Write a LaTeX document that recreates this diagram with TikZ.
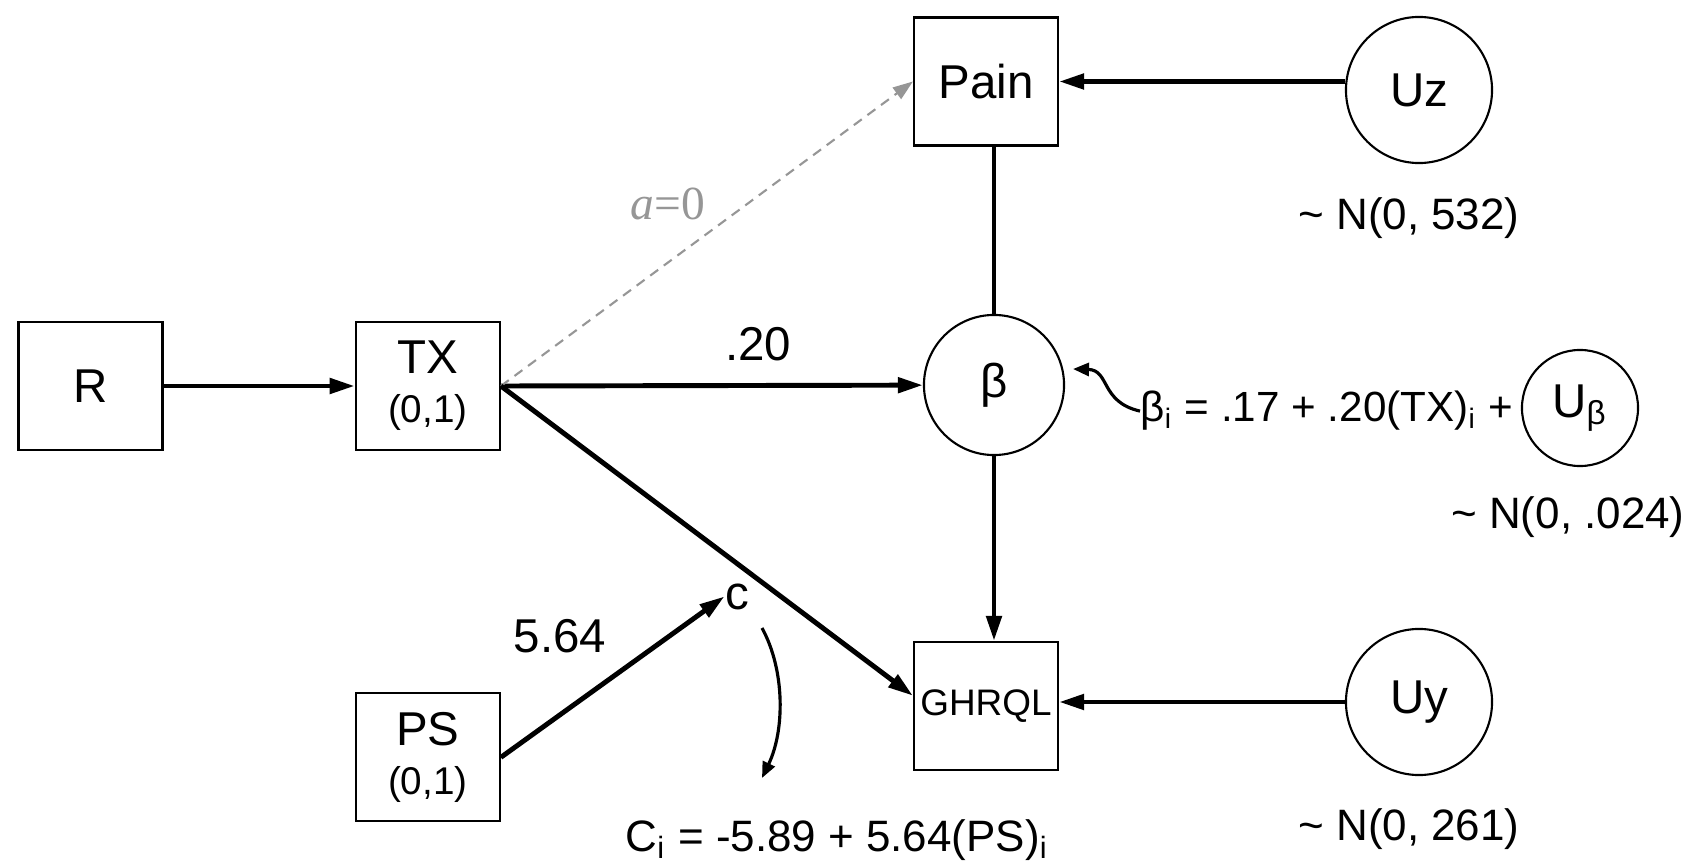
\documentclass[tikz,border=0pt]{standalone}
\usepackage{fontspec}
\setmainfont{Liberation Sans}
\newfontfamily\tmsfont{Liberation Serif}
\usepackage{tikz}
\usetikzlibrary{positioning,arrows.meta,calc}
\definecolor{pGray}{RGB}{150,150,150}
\newcommand{\fBig}{\fontsize{13.5}{16}\selectfont}
\newcommand{\fMid}{\fontsize{12.5}{15}\selectfont}
\newcommand{\fSml}{\fontsize{10.5}{12}\selectfont}
\tikzset{
  obs/.style={rectangle, draw, line width=0.6pt, minimum width=1.44cm,
              minimum height=1.28cm, inner sep=0pt, align=center, font=\fBig},
  lat/.style={circle, draw, line width=0.6pt, minimum size=1.46cm,
              inner sep=0pt, font=\fBig},
  flow/.style={-{Triangle[length=2.5mm,width=1.5mm]}, line width=1.4pt},
  link/.style={line width=1.4pt},
  zero/.style={-{Triangle[length=2mm,width=1.4mm]}, draw=pGray, line width=0.6pt,
               dash pattern=on 2.8pt off 2pt},
  curl/.style={-{Triangle[length=1.6mm,width=1.3mm]}, line width=0.9pt},
  lbl/.style={inner sep=0pt, font=\fMid},
}

\begin{document}
\begin{tikzpicture}[x=0.01cm, y=-0.01cm]
  \useasboundingbox (0,0) rectangle (1690,867);
  % observed variables
  \node[obs] (R) at (90.5,386) {R};
  \node[obs, right=1.91cm of R] (TX) {TX\\[-2pt]{\fontsize{11}{12}\selectfont (0,1)}};
  \node[obs, below=2.41cm of TX] (PS) {PS\\[-2pt]{\fontsize{11}{12}\selectfont (0,1)}};
  \node[obs] (pain) at (986,81.5) {Pain};
  \node[obs, font=\fSml] (ghrql) at (986,706) {GHRQL};
  % latent terms
  \node[lat, minimum size=1.4cm] (beta) at (994,385) {β};
  \node[lat] (uz) at (1419,90) {Uz};
  \node[lat] (uy) at (1419,702) {Uy};
  \node[lat, minimum size=1.16cm] (ub) at (1580,408) {U\textsubscript{β}};
  % equations and labels
  \node[lbl, anchor=base west, font=\fontsize{12}{14}\selectfont] (beq) at (1140,422)
    {β\textsubscript{i} = .17 + .20(TX)\textsubscript{i} +};
  \node[lbl, anchor=base] (nz) at (1409,230) {\textasciitilde\ N(0, 532)};
  \node[lbl, anchor=base] (nb) at (1568,528) {\textasciitilde\ N(0, .024)};
  \node[lbl, anchor=base] (ny) at (1409,840) {\textasciitilde\ N(0, 261)};
  \node[lbl, anchor=base] (ceq) at (837,851)
    {C\textsubscript{i} = -5.89 + 5.64(PS)\textsubscript{i}};
  \node[lbl, anchor=base, font=\fBig] (c) at (737,609) {c};
  \node[lbl, font=\fBig] (wps) at (560,636) {5.64};
  \node[lbl, font=\fBig, text=pGray] (wa) at (668,204) {\tmsfont\itshape a\upshape=0};
  \coordinate (bhead) at (1073,369);
  \coordinate (ctail) at (762,628);
  \coordinate (chead) at (762,778);
  % paths
  \draw[flow] (R) -- (TX);
  \draw[flow] (TX.east) -- node[lbl, font=\fBig, pos=0.61, above=0.22cm] (w20) {.20} (beta);
  \draw[zero] (TX.east) -- (pain.west);
  \draw[flow] (TX.east) -- (ghrql.172);
  \draw[link] (beta.north) -- (beta.north |- pain.south);
  \draw[flow] (beta.south) -- (beta.south |- ghrql.north);
  \draw[flow] (uz.west |- pain.east) -- (pain.east);
  \draw[flow] (uy.west) -- (uy.west -| ghrql.east);
  \draw[flow] (PS.east) -- (c.west);
  \draw[curl] (beq.west) .. controls (1100,402) and (1110,370) .. (bhead);
  \draw[curl] (ctail) .. controls (785,670) and (785,730) .. (chead);
\end{tikzpicture}
\end{document}
